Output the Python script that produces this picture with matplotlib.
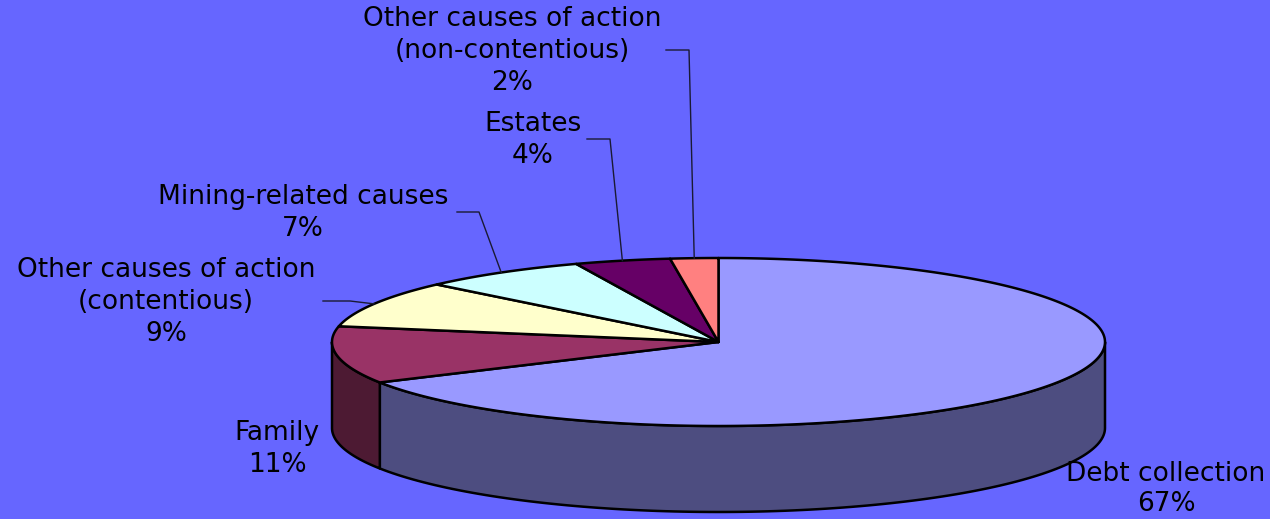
import numpy as np
import matplotlib
matplotlib.use("Agg")
import matplotlib.pyplot as plt

# ---- data ----
categories = ["Debt collection", "Family", "Other causes of action\n(contentious)",
              "Mining-related causes", "Estates", "Other causes of action\n(non-contentious)"]
values = [67, 11, 9, 7, 4, 2]
top_colors = ["#9999FF", "#993366", "#FFFFCC", "#CCFFFF", "#660066", "#FF8080"]
side_colors = ["#4D4D80", "#4D1A33", "#80806A", "#6A8080", "#330033", "#804040"]

# label placements (text centre, first line y) in figure pixel space
label_pos = [(1166, 474), (277, 433), (166, 270), (303, 197), (533, 124), (512, 19)]
# leader lines: (text end point, elbow) ; the pie end point is computed
leaders = {5: [(666, 50), (689, 50)],
           4: [(587, 139), (610, 139)],
           3: [(457, 212), (479, 212)],
           2: [(323, 301), (350, 301)]}

W, H = 1270, 519
fig = plt.figure(figsize=(W / 100, H / 100), dpi=100)
fig.patch.set_facecolor("#6666FF")
ax = fig.add_axes([0, 0, 1, 1])
ax.set_xlim(0, W)
ax.set_ylim(H, 0)
ax.axis("off")

cx, cy, rx, ry, depth = 718.5, 342.0, 386.5, 84.0, 86.0
lw = 1.8

def pt(t, dz=0.0):
    r = np.deg2rad(t)
    return cx + rx * np.cos(r), cy - ry * np.sin(r) + dz

total = float(sum(values))
angles = []
a = 90.0
for v in values:
    b = a - 360.0 * v / total
    angles.append((b, a))  # ccw from b to a
    a = b

# side walls (front half: math angle in [180, 360])
for i, (b, a) in enumerate(angles):
    for off in (0, 360, -360):
        lo = max(b + off, 180.0)
        hi = min(a + off, 360.0)
        if hi > lo:
            ts = np.linspace(lo, hi, 120)
            xs_t, ys_t = pt(ts)
            xs_b, ys_b = pt(ts[::-1], depth)
            xs = np.concatenate([xs_t, xs_b])
            ys = np.concatenate([ys_t, ys_b])
            ax.fill(xs, ys, facecolor=side_colors[i], edgecolor="black", lw=lw,
                    joinstyle="round", zorder=2)

# top faces
for i, (b, a) in enumerate(angles):
    ts = np.linspace(b, a, 300)
    xs, ys = pt(ts)
    xs = np.concatenate([[cx], xs, [cx]])
    ys = np.concatenate([[cy], ys, [cy]])
    ax.fill(xs, ys, facecolor=top_colors[i], edgecolor="black", lw=lw,
            joinstyle="round", zorder=3)

# labels
for i, name in enumerate(categories):
    x, y = label_pos[i]
    ls = 1.2 if i == 0 else 1.3
    ax.text(x, y - 13, f"{name}\n{values[i]}%", ha="center", va="top",
            fontsize=19, family="DejaVu Sans", color="black",
            linespacing=ls, zorder=5)

# leader lines
for i, pts in leaders.items():
    b, a = angles[i]
    mid = (a + b) / 2.0
    ex, ey = pt(mid)
    xs = [p[0] for p in pts] + [ex]
    ys = [p[1] for p in pts] + [ey]
    ax.plot(xs, ys, color="#1a1a33", lw=1.0, zorder=4)

fig.savefig("out.png", dpi=100, facecolor=fig.get_facecolor())
